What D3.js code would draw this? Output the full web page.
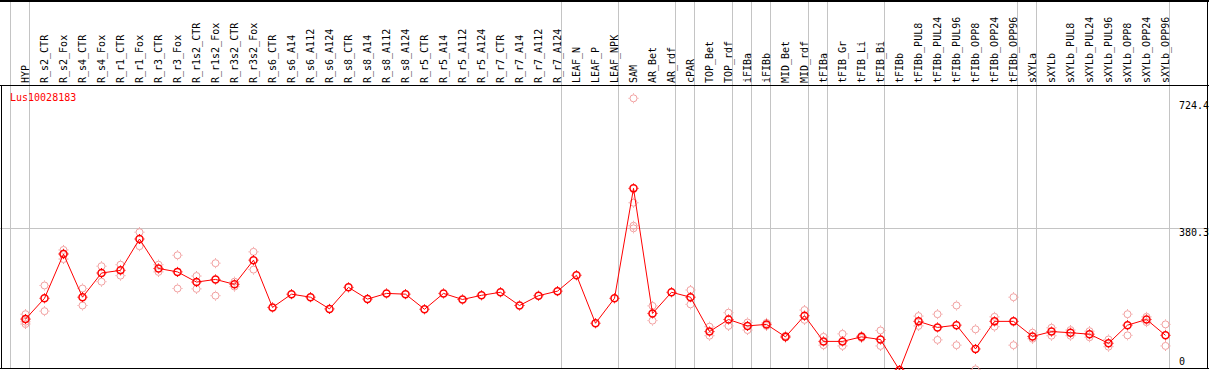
<!DOCTYPE html>
<html>
<head>
<meta charset="utf-8">
<script src="https://cdn.jsdelivr.net/npm/d3@7"></script>
<style>
  body { margin: 0; background: #fff; }
  svg { display: block; }
  text { font-family: "DejaVu Sans Mono", monospace; font-size: 10px; }
</style>
</head>
<body>
<div id="chart"></div>
<script>
// gene and sample names
var geneId = "Lus10028183";

var samples = [
  "HYP", "R_s2_CTR", "R_s2_Fox", "R_s4_CTR", "R_s4_Fox", "R_r1_CTR", "R_r1_Fox",
  "R_r3_CTR", "R_r3_Fox", "R_r1s2_CTR", "R_r1s2_Fox", "R_r3s2_CTR", "R_r3s2_Fox",
  "R_s6_CTR", "R_s6_A14", "R_s6_A112", "R_s6_A124", "R_s8_CTR", "R_s8_A14",
  "R_s8_A112", "R_s8_A124", "R_r5_CTR", "R_r5_A14", "R_r5_A112", "R_r5_A124",
  "R_r7_CTR", "R_r7_A14", "R_r7_A112", "R_r7_A124", "LEAF_N", "LEAF_P", "LEAF_NPK",
  "SAM", "AR_Bet", "AR_rdf", "cPAR", "TOP_Bet", "TOP_rdf", "iFIBa", "iFIBb",
  "MID_Bet", "MID_rdf", "tFIBa", "tFIB_Gr", "tFIB_Li", "tFIB_Bi", "tFIBb",
  "tFIBb_PUL8", "tFIBb_PUL24", "tFIBb_PUL96", "tFIBb_OPP8", "tFIBb_OPP24", "tFIBb_OPP96",
  "sXYLa", "sXYLb", "sXYLb_PUL8", "sXYLb_PUL24", "sXYLb_PUL96", "sXYLb_OPP8",
  "sXYLb_OPP24", "sXYLb_OPP96"
];

// mean expression per sample
var means = [
  140, 195, 312, 198, 262, 269, 352, 274, 265, 238, 245, 232, 296,
  171, 206, 198, 167, 224, 193, 208, 206, 166, 208, 192, 203,
  211, 176, 202, 214, 256, 129, 195,
  486, 155, 211, 198, 107, 139, 122, 126,
  93, 149, 81, 81, 93, 86, 5,
  134, 118, 124, 61, 134, 134,
  94, 107, 104, 100, 76, 124, 139, 97
];

// replicate values per sample
var replicates = [
  [153, 140, 133, 127], [229, 161], [323, 314, 299], [221, 176], [280, 239], [284, 255], [370, 333],
  [284, 265], [309, 221], [254, 220], [288, 202], [239, 226], [318, 271],
  [], [], [], [], [], [], [], [], [], [], [], [],
  [], [], [], [], [], [], [],
  [724.4, 448, 387, 380.3], [175, 136], [], [217, 179], [120, 96], [157, 122], [131, 111], [130, 122],
  [96, 91], [164, 138], [93, 71], [101, 69], [95, 90], [110, 69], [],
  [148, 122], [153, 85], [176, 71], [113, 7], [146, 120], [198, 71],
  [104, 88], [117, 96], [111, 96], [108, 92], [86, 67], [153, 97], [146, 132], [126, 69]
];

// vertical separators sit before these samples (plus one after the last)
var groupStarts = ["HYP", "R_s2_CTR", "LEAF_N", "SAM", "cPAR", "TOP_Bet", "iFIBa", "iFIBb",
  "MID_Bet", "tFIBa", "tFIB_Gr", "tFIBb", "sXYLa", "sXYLb"];

var yLabels = [724.4, 380.3, 0];
var yGrid = [380.3];

var width = 1209;
var height = 370;
var headerBottom = 85.5;
var plotBottom = 368.5;

var svg = d3.select("#chart")
  .append("svg")
  .attr("width", width)
  .attr("height", height);

svg.append("rect")
  .attr("width", width)
  .attr("height", height)
  .attr("fill", "#fff");

var x = d3.scaleBand()
  .domain(samples)
  .range([10, 10 + samples.length * 19]);

function cx(s) { return x(s) + 15.5; }

var y = d3.scaleLinear()
  .domain([0, 724.4])
  .range([372, 98.3]);

// grid lines
svg.selectAll(".hgrid")
  .data(yGrid)
  .enter().append("line")
  .attr("x1", 0).attr("x2", width)
  .attr("y1", function(d) { return Math.round(y(d)) + 0.5; })
  .attr("y2", function(d) { return Math.round(y(d)) + 0.5; })
  .attr("stroke", "#c4c4c4");

var seps = groupStarts.map(function(s) { return x(s); });
seps.push(x(samples[samples.length - 1]) + x.step());

svg.selectAll(".vgrid")
  .data(seps)
  .enter().append("line")
  .attr("x1", function(d) { return d + 0.5; })
  .attr("x2", function(d) { return d + 0.5; })
  .attr("y1", 0).attr("y2", plotBottom)
  .attr("stroke", "#c4c4c4");

// frame
svg.append("line").attr("x1", 0).attr("x2", width).attr("y1", 1).attr("y2", 1)
  .attr("stroke", "#000").attr("stroke-width", 2);
svg.append("line").attr("x1", 0).attr("x2", width).attr("y1", headerBottom).attr("y2", headerBottom)
  .attr("stroke", "#000");
svg.append("line").attr("x1", 0).attr("x2", width).attr("y1", plotBottom).attr("y2", plotBottom)
  .attr("stroke", "#000");
svg.append("line").attr("x1", 1.5).attr("x2", 1.5).attr("y1", headerBottom).attr("y2", plotBottom)
  .attr("stroke", "#000");
svg.append("line").attr("x1", 1207.5).attr("x2", 1207.5).attr("y1", 0).attr("y2", plotBottom)
  .attr("stroke", "#000");

// sample names in the header
svg.selectAll(".sample")
  .data(samples)
  .enter().append("text")
  .attr("transform", function(d) { return "translate(" + (cx(d) + 3.5) + "," + 83 + ") rotate(-90)"; })
  .attr("fill", "#000")
  .text(function(d) { return d; });

// value labels on the right
svg.selectAll(".ylabel")
  .data(yLabels)
  .enter().append("text")
  .attr("x", 1179)
  .attr("y", function(d) { return Math.min(Math.max(y(d) + 7.5, 109), 365); })
  .attr("fill", "#000")
  .text(function(d) { return d; });

svg.append("text")
  .attr("x", 10)
  .attr("y", 101)
  .attr("fill", "#ff0000")
  .text(geneId);

// small marker: circle with four little notches
function marker(g, color, sw) {
  g.append("circle").attr("r", 3.5).attr("fill", "none").attr("stroke", color).attr("stroke-width", sw);
  g.append("path")
    .attr("d", "M0,-5V-4M0,4V5M-5,0H-4M4,0H5")
    .attr("stroke", color).attr("stroke-width", 1);
}

var reps = [];
samples.forEach(function(s, i) {
  replicates[i].forEach(function(v) { reps.push({ s: s, v: v }); });
});

svg.selectAll(".rep")
  .data(reps)
  .enter().append("g")
  .attr("transform", function(d) { return "translate(" + cx(d.s) + "," + y(d.v) + ")"; })
  .each(function() { marker(d3.select(this), "#f2a0a0", 1); });

var meanData = samples.map(function(s, i) { return { s: s, v: means[i] }; });

svg.append("path")
  .datum(meanData)
  .attr("fill", "none")
  .attr("stroke", "#ff0000")
  .attr("stroke-width", 1)
  .attr("d", d3.line()
    .x(function(d) { return cx(d.s); })
    .y(function(d) { return y(d.v); }));

svg.selectAll(".mean")
  .data(meanData)
  .enter().append("g")
  .attr("transform", function(d) { return "translate(" + cx(d.s) + "," + y(d.v) + ")"; })
  .each(function() { marker(d3.select(this), "#ff0000", 1.5); });
</script>
</body>
</html>
